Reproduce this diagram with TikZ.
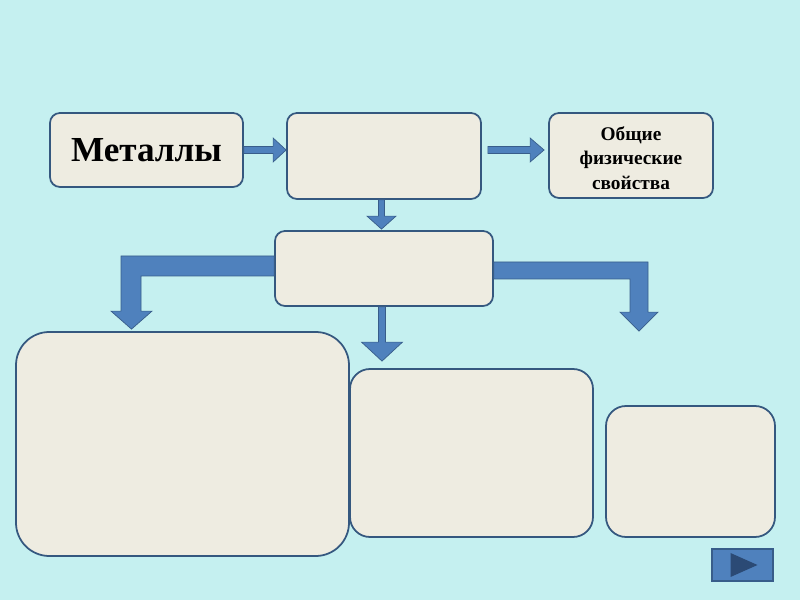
\documentclass[tikz,border=0pt]{standalone}
\usepackage{fontspec}
\setmainfont{Liberation Serif}
\usetikzlibrary{calc}
\definecolor{bgcol}{HTML}{C5F0F0}
\definecolor{boxfill}{HTML}{EEECE1}
\definecolor{boxline}{HTML}{35587F}
\definecolor{arrfill}{HTML}{4F81BD}
\definecolor{arrline}{HTML}{385D8A}
\definecolor{playtri}{HTML}{2B4A75}
\tikzset{
  box/.style={draw=boxline, line width=1.5pt, fill=boxfill, rounded corners=0.3cm, inner sep=0pt},
  blockarrow/.style={fill=arrfill, draw=arrline, line width=0.6pt, line join=miter},
}
\begin{document}
\begin{tikzpicture}[x=0.03cm, y=-0.03cm]
\fill[bgcol] (0,0) rectangle (800,600);
\useasboundingbox (0,0) rectangle (800,600);

\node[box, minimum width=5.79cm, minimum height=2.22cm, font=\fontsize{30pt}{34pt}\selectfont\bfseries] (met) at (146.5,150)
  {Металлы};
\node[box, minimum width=5.82cm, minimum height=2.58cm] (mid1) at (384,156) {};
\node[box, minimum width=4.92cm, minimum height=2.55cm] (obsh) at (631,155.5) {};
\node[align=center, inner sep=0pt, font=\fontsize{16.5pt}{21pt}\selectfont\bfseries] (obshtext) at ($(obsh.center)+(0,2.5)$)
  {Общие\\физические\\свойства};
\node[box, minimum width=6.54cm, minimum height=2.25cm] (mid2) at (384,268.5) {};
\node[box, rounded corners=1.0cm, minimum width=9.99cm, minimum height=6.72cm] (bigl) at (182.5,444) {};
\node[box, rounded corners=0.6cm, minimum width=7.29cm, minimum height=5.04cm] (midb) at (471.5,453) {};
\node[box, rounded corners=0.6cm, minimum width=5.07cm, minimum height=3.93cm] (rsm) at (690.5,471.5) {};

% play button
\node[fill=arrfill, draw=arrline, line width=1.2pt, minimum width=1.83cm, minimum height=0.96cm, inner sep=0pt] (play) at (742.5,565) {};
\fill[playtri] ($(play.center)+(-12,-12)$) -- ($(play.center)+(15,0)$) -- ($(play.center)+(-12,12)$) -- cycle;

% arrow Металлы -> mid1
\coordinate (t1) at (met.east -| mid1.west);
\draw[blockarrow] ($(met.east)+(0,-3.5)$) -- ($(t1)+(-13,-3.5)$) -- ($(t1)+(-13,-12)$) -- (t1)
  -- ($(t1)+(-13,12)$) -- ($(t1)+(-13,3.5)$) -- ($(met.east)+(0,3.5)$) -- cycle;

% arrow mid1 -> Общие
\coordinate (s2) at ($(mid1.east)+(6,-6)$);
\coordinate (t2) at ($(obsh.west)+(-4,-5.5)$);
\draw[blockarrow] ($(s2)+(0,-3.5)$) -- ($(t2)+(-14,-3.5)$) -- ($(t2)+(-14,-12)$) -- (t2)
  -- ($(t2)+(-14,12)$) -- ($(t2)+(-14,3.5)$) -- ($(s2)+(0,3.5)$) -- cycle;

% arrow mid1 -> mid2
\coordinate (s3) at ($(mid1.south)+(-2.5,0)$);
\coordinate (t3) at ($(mid2.north)+(-2.5,-1)$);
\draw[blockarrow] ($(s3)+(-3,0)$) -- ($(t3)+(-3,-13)$) -- ($(t3)+(-14.5,-13)$) -- (t3)
  -- ($(t3)+(14.5,-13)$) -- ($(t3)+(3,-13)$) -- ($(s3)+(3,0)$) -- cycle;

% arrow mid2 -> midb
\coordinate (s4) at ($(mid2.south)+(-2,0)$);
\coordinate (t4) at ($(midb.north -| s4)+(0,-7)$);
\draw[blockarrow] ($(s4)+(-3.5,0)$) -- ($(t4)+(-3.5,-19)$) -- ($(t4)+(-20.5,-19)$) -- (t4)
  -- ($(t4)+(20.5,-19)$) -- ($(t4)+(3.5,-19)$) -- ($(s4)+(3.5,0)$) -- cycle;

% bent arrow mid2 -> big left
\coordinate (t5) at ($(bigl.north -| 131.5,0)+(0,-2)$);
\coordinate (a1) at ($(mid2.west)+(0,-12.5)$);
\coordinate (a2) at ($(mid2.west)+(0,7.5)$);
\coordinate (oL) at ($(t5)+(-10.5,0)$);
\coordinate (iL) at ($(t5)+(9.5,0)$);
\coordinate (hL) at ($(t5)+(0,-18)$);
\draw[blockarrow] (a1) -- (a1 -| oL) -- (hL -| oL) -- ($(hL)+(-20.5,0)$) -- (t5)
  -- ($(hL)+(20.5,0)$) -- (hL -| iL) -- (a2 -| iL) -- (a2) -- cycle;

% bent arrow mid2 -> right
\coordinate (t6) at ($(rsm.north -| 639,0)+(0,-74)$);
\coordinate (b1) at ($(mid2.east)+(0,-6.5)$);
\coordinate (b2) at ($(mid2.east)+(0,10.5)$);
\coordinate (oR) at ($(t6)+(9,0)$);
\coordinate (iR) at ($(t6)+(-9,0)$);
\coordinate (hR) at ($(t6)+(0,-19)$);
\draw[blockarrow] (b1) -- (b1 -| oR) -- (hR -| oR) -- ($(hR)+(19,0)$) -- (t6)
  -- ($(hR)+(-19,0)$) -- (hR -| iR) -- (b2 -| iR) -- (b2) -- cycle;
\end{tikzpicture}
\end{document}
